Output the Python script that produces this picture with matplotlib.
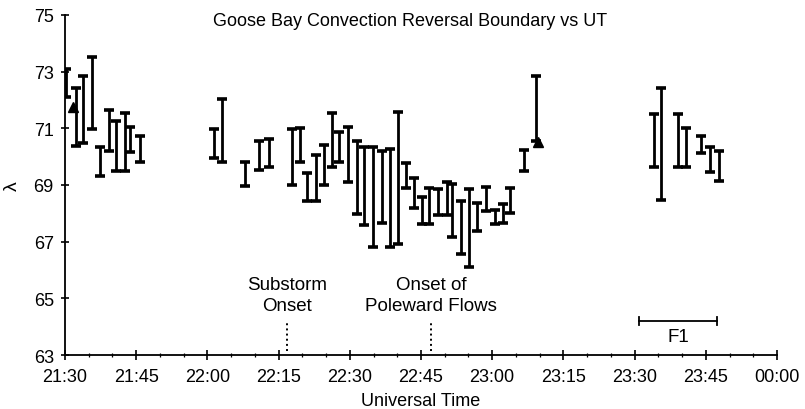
import numpy as np
import matplotlib
matplotlib.use('Agg')
import matplotlib.pyplot as plt

plt.rcParams['font.family'] = ['Liberation Sans', 'DejaVu Sans']

# minutes after 21:30 for each boundary estimate, with upper / lower latitude
t_min = [0.3, 2.25, 3.9, 5.6, 7.4, 9.3, 10.7, 12.6, 13.7, 15.8,
         31.4, 33.0, 38.0, 40.9, 43.0, 47.9, 49.5, 51.0, 52.8, 54.5,
         56.3, 57.7, 59.6, 61.5, 63.0, 64.8, 66.7, 68.4, 70.2, 71.9,
         73.5, 75.2, 76.7, 78.5, 80.4, 81.6, 83.4, 85.1, 86.9, 88.8,
         90.7, 92.3, 93.7, 96.6, 99.2,
         124.0, 125.6, 129.1, 130.9, 134.0, 135.9, 137.7]
lam_hi = [73.10, 72.42, 72.84, 73.50, 70.33, 71.65, 71.25, 71.54, 71.03, 70.72,
          70.98, 72.05, 69.82, 70.54, 70.64, 70.98, 71.00, 69.42, 70.07, 70.42,
          71.53, 70.86, 71.06, 70.56, 70.35, 70.35, 70.21, 70.27, 71.56, 69.77,
          69.25, 68.57, 68.88, 68.86, 69.10, 69.04, 68.45, 68.86, 68.37, 68.92,
          68.12, 68.33, 68.88, 70.22, 72.84,
          71.51, 72.42, 71.51, 71.01, 70.72, 70.35, 70.21]
lam_lo = [72.09, 70.39, 70.48, 70.98, 69.33, 70.21, 69.50, 69.50, 70.18, 69.80,
          69.94, 69.80, 68.95, 69.53, 69.62, 69.00, 69.80, 68.43, 68.45, 69.00,
          69.65, 69.82, 69.12, 67.98, 67.59, 66.82, 67.65, 66.82, 66.92, 68.88,
          68.18, 67.62, 67.62, 67.94, 67.94, 67.15, 66.57, 66.10, 67.37, 68.07,
          67.62, 67.66, 68.00, 69.51, 70.56,
          69.65, 68.47, 69.65, 69.65, 70.13, 69.45, 69.13]

# single-point (triangle) estimates
tri_t = [1.75, 99.6]
tri_lam = [71.75, 70.5]

tick_pos = [0, 15, 30, 45, 60, 75, 90, 105, 120, 135, 150]
tick_lab = ['21:30', '21:45', '22:00', '22:15', '22:30', '22:45',
            '23:00', '23:15', '23:30', '23:45', '00:00']

events_t = [46.7, 77.2]
events_txt = ['Substorm\nOnset', 'Onset of\nPoleward Flows']
f1_span = [121.0, 137.3]

fig = plt.figure(figsize=(8.05, 4.1), dpi=100)
ax = fig.add_axes([0.0807, 0.1317, 0.8845, 0.8293])

t = np.array(t_min)
hi = np.array(lam_hi)
lo = np.array(lam_lo)
mid = (hi + lo) / 2
err = (hi - lo) / 2
ax.errorbar(t, mid, yerr=err, fmt='none', ecolor='black', elinewidth=2.0,
            capsize=3.8, capthick=2.6)
ax.plot(tri_t, tri_lam, '^', color='black', markersize=6.5)

for x, s in zip(events_t, events_txt):
    ax.plot([x, x], [63.15, 64.2], ':', color='black', lw=1.4)
    ax.text(x, 64.45, s, ha='center', va='bottom', fontsize=13.5, linespacing=1.3)

# F1 interval bracket
ax.plot(f1_span, [64.2, 64.2], color='black', lw=1.3)
for x in f1_span:
    ax.plot([x, x], [64.05, 64.35], color='black', lw=1.3)
ax.text(np.mean(f1_span), 63.97, 'F1', ha='center', va='top', fontsize=13.5)

ax.text(72.6, 74.8, 'Goose Bay Convection Reversal Boundary vs UT',
        ha='center', va='center', fontsize=13)

ax.set_xlim(0, 150)
ax.set_ylim(63, 75)
ax.set_xticks(tick_pos)
ax.set_xticklabels(tick_lab)
ax.set_xticks(np.arange(0, 151, 5), minor=True)
ax.set_yticks(np.arange(63, 76, 2))
for s in ['top', 'right']:
    ax.spines[s].set_visible(False)
ax.spines['left'].set_linewidth(1.3)
ax.spines['bottom'].set_linewidth(1.3)
ax.tick_params(axis='x', which='major', direction='inout', length=7, width=1.2,
               labelsize=13, pad=6)
ax.tick_params(axis='x', which='minor', direction='inout', length=3, width=0.9)
ax.tick_params(axis='y', direction='inout', length=6, width=1.2, labelsize=13, pad=5)
ax.set_xlabel('Universal Time', fontsize=13, labelpad=5)
ax.set_ylabel('λ', fontsize=14, rotation=90, labelpad=9)

fig.savefig('out.png', dpi=100)
